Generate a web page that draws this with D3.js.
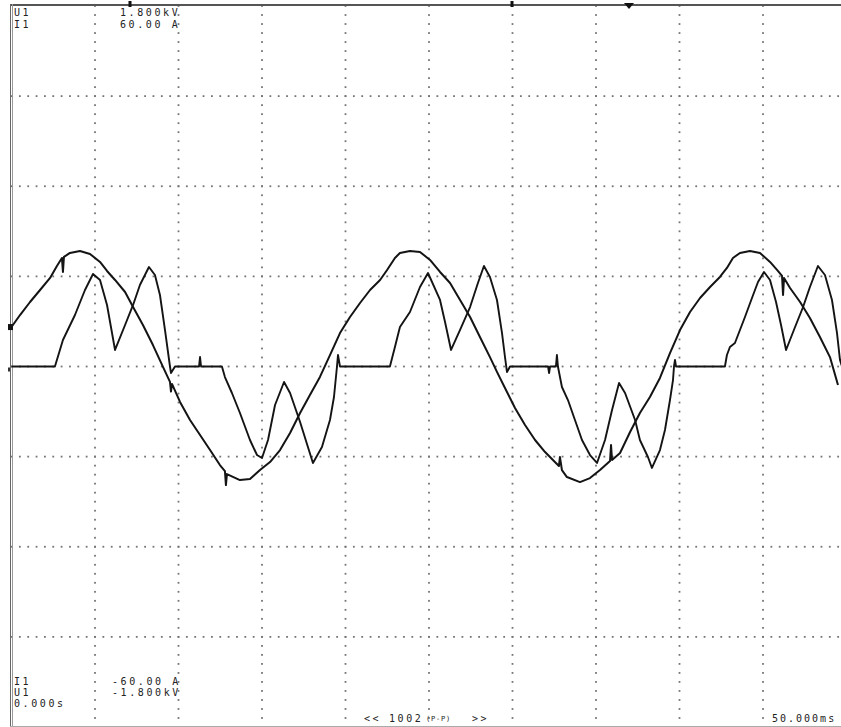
<!DOCTYPE html>
<html>
<head>
<meta charset="utf-8">
<script src="https://cdn.jsdelivr.net/npm/d3@7/dist/d3.min.js"></script>
<style>
  html, body { margin: 0; padding: 0; background: #fff; }
  svg { display: block; }
  text { font-family: "DejaVu Sans Mono", "Liberation Mono", monospace; fill: #222; }
</style>
</head>
<body>
<svg id="chart" width="841" height="727"></svg>
<script>
// ---------- DATA (read from the reference screen) ----------
// time axis: 0 .. 50 ms, 10 divisions (5 ms/div)
const timeDivisions = [0, 5, 10, 15, 20, 25, 30, 35, 40, 45, 50];
// current axis: -60 .. 60 A, 8 divisions (15 A/div); voltage axis: -1.8 .. 1.8 kV
const currentDivisions = [-60, -45, -30, -15, 0, 15, 30, 45, 60];
const voltageRange = [-1.8, 1.8];
const currentRange = [-60, 60];

// I1 current trace (time in ms, current in A)
const timeI = [0, 2.60, 3.08, 3.80, 4.40, 4.88, 5.30, 5.72, 6.20, 6.80, 7.28, 7.69, 8.23, 8.59, 8.89, 9.19, 9.49, 9.55, 9.79,
  11.23, 11.29, 11.35, 12.60, 12.78, 13.20, 13.68, 14.28, 14.70, 15.00, 15.36, 15.78, 16.32, 16.68, 17.28, 18.05, 18.59,
  19.07, 19.31, 19.49, 19.55, 19.67, 22.66, 22.96, 23.26, 23.86, 24.46, 24.94, 25.66, 25.96, 26.32, 26.86, 27.46, 27.93,
  28.29, 28.65, 29.07, 29.37, 29.55, 29.67, 29.85, 32.13, 32.19, 32.25, 32.60, 32.66, 32.72, 32.96, 33.32, 33.74, 34.16,
  34.64, 35.06, 35.54, 35.96, 36.38, 36.74, 37.34, 37.63, 38.11, 38.35, 38.83, 39.13, 39.43, 39.61, 39.67, 39.73, 39.79,
  42.72, 42.84, 43.02, 43.32, 43.92, 44.34, 44.70, 45.06, 45.42, 45.78, 46.08, 46.38, 46.92, 47.40, 47.81, 48.29, 48.71,
  49.13, 49.43, 49.61, 49.73];
const currentA = [0, 0, 4.41, 8.57, 12.73, 15.40, 14.40, 10.24, 2.75, 6.91, 10.24, 13.57, 16.56, 15.23, 11.90, 6.08, 0, -1.08, 0,
  0, 1.58, 0, 0, -1.75, -4.41, -7.74, -12.23, -14.73, -15.23, -12.23, -6.41, -2.58, -4.41, -9.24, -16.06, -13.40,
  -8.90, -5.08, 0, 1.91, 0, 0, 3.25, 6.57, 9.07, 13.23, 15.56, 11.07, 7.41, 2.75, 6.08, 9.90, 13.90,
  16.73, 14.90, 11.07, 5.58, 1.58, -0.92, 0, 0, -1.08, 0, 0, 1.91, 0, -3.41, -5.58, -8.90, -12.23,
  -14.73, -16.06, -12.23, -7.24, -2.75, -4.41, -8.90, -12.23, -15.06, -16.89, -13.90, -10.57, -5.58, -2.25, 0, 1.08, 0,
  0, 1.91, 3.25, 3.91, 8.24, 11.40, 14.06, 15.73, 14.40, 10.74, 6.91, 2.75, 6.57, 9.90, 13.23, 16.73, 15.23,
  11.07, 5.58, 1.08, 0];

// U1 voltage trace (time in ms, voltage in kV)
const timeU = [0, 0.51, 1.11, 1.71, 2.31, 2.72, 3.02, 3.08, 3.14, 3.50, 4.10, 4.70, 5.30, 5.72, 6.20, 6.80, 7.28, 7.87,
  8.47, 9.07, 9.49, 9.55, 9.61, 10.09, 10.69, 11.29, 11.89, 12.48, 12.78, 12.84, 12.90, 13.68, 14.28, 14.88, 15.48, 16.08,
  16.68, 17.28, 17.87, 18.47, 19.07, 19.67, 20.27, 20.87, 21.47, 22.07, 22.49, 22.96, 23.26, 23.86, 24.46, 25.06,
  25.66, 26.26, 26.86, 27.46, 28.05, 28.65, 29.07, 29.55, 30.15, 30.75, 31.35, 31.95, 32.54, 32.78, 32.84, 32.96, 33.26,
  34.04, 34.64, 35.24, 35.84, 35.90, 35.96, 36.44, 37.04, 37.63, 38.23, 38.83, 39.43, 40.03, 40.63, 41.23, 41.83,
  42.42, 42.84, 43.20, 43.62, 44.22, 44.82, 45.42, 45.84, 46.14, 46.20, 46.26, 46.62, 47.22, 47.81, 48.41, 49.01, 49.49];
const voltageKV = [0.197, 0.257, 0.322, 0.382, 0.442, 0.502, 0.542, 0.472, 0.547, 0.567, 0.577, 0.562, 0.522, 0.477, 0.432,
  0.372, 0.297, 0.207, 0.107, -0.002, -0.077, -0.125, -0.087, -0.177, -0.267, -0.342, -0.417, -0.492, -0.522, -0.592,
  -0.537, -0.567, -0.562, -0.517, -0.477, -0.417, -0.332, -0.232, -0.142, -0.052, 0.057, 0.167, 0.247, 0.317, 0.382, 0.432,
  0.482, 0.542, 0.567, 0.577, 0.572, 0.532, 0.472, 0.417, 0.332, 0.247, 0.147, 0.047, -0.027, -0.107, -0.207, -0.292,
  -0.367, -0.427, -0.477, -0.497, -0.452, -0.517, -0.552, -0.577, -0.557, -0.517, -0.472, -0.392, -0.467, -0.432, -0.327,
  -0.232, -0.152, -0.057, 0.067, 0.182, 0.272, 0.342, 0.397, 0.447, 0.492, 0.542, 0.567, 0.577, 0.567, 0.522, 0.482,
  0.452, 0.357, 0.442, 0.392, 0.322, 0.242, 0.147, 0.047, -0.092];

// screen annotations
const topLabels = [["U1", "1.800kV"], ["I1", "60.00 A"]];
const bottomLabels = [["I1", "-60.00 A"], ["U1", "-1.800kV"]];
const startTimeLabel = "0.000s";
const endTimeLabel = "50.000ms";
const countLabel = "1002";
const modeLabel = "(P-P)";

// ---------- DRAWING ----------
const svg = d3.select("#chart");
const W = 841, H = 727;
const x = d3.scaleLinear().domain([timeDivisions[0], timeDivisions[timeDivisions.length - 1]]).range([11.5, 846.5]);
const yI = d3.scaleLinear().domain(currentRange).range([727, 6]);
const yU = d3.scaleLinear().domain(voltageRange).range([727, 6]);

svg.append("rect").attr("width", W).attr("height", H).attr("fill", "#fff");

const grid = svg.append("g");
// horizontal dotted lines (dots every 0.5 ms)
const hLines = currentDivisions.slice(1, -1);
const xDots = d3.range(0, 50.01, 0.5);
hLines.forEach(v => {
  grid.selectAll(null).data(xDots).enter().append("rect")
    .attr("x", d => x(d) - 0.9).attr("y", yI(v) - 0.9)
    .attr("width", 1.8).attr("height", 1.8).attr("fill", "#757575");
});
// vertical dotted lines (dots every 1.5 A => 1/10 division)
const vLines = timeDivisions.slice(1, -1);
const yDots = d3.range(-60, 60.01, 1.5);
vLines.forEach(t => {
  grid.selectAll(null).data(yDots).enter().append("rect")
    .attr("x", x(t) - 0.9).attr("y", d => yI(d) - 0.9)
    .attr("width", 1.8).attr("height", 1.8).attr("fill", "#757575");
});

// frame
svg.append("line").attr("x1", 10).attr("x2", W).attr("y1", 5).attr("y2", 5)
  .attr("stroke", "#555").attr("stroke-width", 2);
svg.append("line").attr("x1", 10.5).attr("x2", 10.5).attr("y1", 4).attr("y2", H)
  .attr("stroke", "#666").attr("stroke-width", 1);
svg.append("line").attr("x1", 12.5).attr("x2", 12.5).attr("y1", 4).attr("y2", H)
  .attr("stroke", "#999").attr("stroke-width", 1);
svg.append("line").attr("x1", 10).attr("x2", W).attr("y1", 726.5).attr("y2", 726.5)
  .attr("stroke", "#aaa").attr("stroke-width", 1);

// top markers
[130, 512].forEach(px => svg.append("rect").attr("x", px - 1.5).attr("y", 1).attr("width", 3).attr("height", 6).attr("fill", "#111"));
svg.append("path").attr("d", "M624,3 L634,3 L629,9 Z").attr("fill", "#111");
// channel level markers at left edge
svg.append("rect").attr("x", 8).attr("y", yU(voltageKV[0]) - 3).attr("width", 5).attr("height", 6).attr("fill", "#111");
svg.append("rect").attr("x", 8).attr("y", yI(0) + 1).attr("width", 2).attr("height", 4).attr("fill", "#333");

// traces
svg.append("clipPath").attr("id", "plotclip").append("rect")
  .attr("x", 11).attr("y", 5).attr("width", W - 11).attr("height", 722);
const lineI = d3.line().x((d, i) => x(timeI[i])).y(d => yI(d));
const lineU = d3.line().x((d, i) => x(timeU[i])).y(d => yU(d));
svg.append("path").attr("clip-path", "url(#plotclip)").attr("d", lineU(voltageKV))
  .attr("fill", "none").attr("stroke", "#141414").attr("stroke-width", 2).attr("stroke-linejoin", "round");
svg.append("path").attr("clip-path", "url(#plotclip)").attr("d", lineI(currentA))
  .attr("fill", "none").attr("stroke", "#141414").attr("stroke-width", 1.9).attr("stroke-linejoin", "round");

// text
const fs = 10, ls = 2.6;
function label(tx, px, py, size) {
  return svg.append("text").attr("x", px).attr("y", py).attr("font-size", size || fs)
    .attr("letter-spacing", ls).text(tx);
}
topLabels.forEach((r, i) => { label(r[0], 14, 16 + i * 11.5); label(r[1], 120, 16 + i * 11.5); });
bottomLabels.forEach((r, i) => { label(r[0], 14, 685 + i * 11); label(r[1], 112, 685 + i * 11); });
label(startTimeLabel, 14, 707);
label("<<", 364, 722);
label(countLabel, 389, 722);
svg.append("text").attr("x", 426).attr("y", 721).attr("font-size", 7).attr("letter-spacing", 0.8).text(modeLabel);
label(">>", 472, 722);
label(endTimeLabel, 772, 722).attr("letter-spacing", 2.0);
</script>
</body>
</html>
